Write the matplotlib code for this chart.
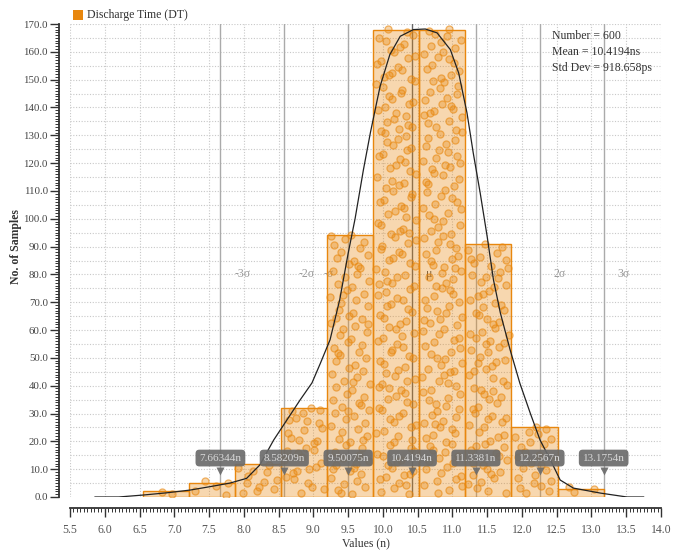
import numpy as np
import matplotlib.pyplot as plt
from matplotlib.patches import Rectangle
from matplotlib.ticker import MultipleLocator, FormatStrFormatter

# histogram of discharge time (ns)
bin_edges = [6.545, 7.208, 7.871, 8.534, 9.197, 9.860, 10.523, 11.186, 11.849, 12.512, 13.175]
bin_counts = [2, 5, 12, 32, 94, 168, 168, 91, 25, 3]

# density curve
curve_x = [5.86, 6.20, 6.55, 6.89, 7.23, 7.51, 7.80, 8.04, 8.23, 8.43, 8.62, 8.81,
           8.98, 9.10, 9.24, 9.38, 9.50, 9.60, 9.72, 9.82, 9.91, 9.96, 10.10, 10.25,
           10.44, 10.61, 10.78, 10.97, 11.09, 11.21, 11.30, 11.40, 11.50, 11.59,
           11.69, 11.83, 11.97, 12.12, 12.26, 12.41, 12.55, 12.74, 13.13, 13.51, 13.75]
curve_y = [0.0, 0.0, 0.7, 1.5, 2.5, 3.7, 5.0, 6.7, 11.5, 20.5, 27.7, 34.9,
           41.0, 48.0, 56.5, 71.0, 87.5, 100.0, 117.6, 130.9, 141.7, 147.6, 159.0, 165.6,
           168.0, 168.2, 166.8, 160.8, 152.4, 138.0, 123.6, 109.2, 93.6, 78.1,
           66.1, 52.9, 40.9, 30.1, 20.5, 13.3, 6.1, 3.2, 1.4, 0.0, 0.0]

n_samples = 600
mean_ns = 10.4194
std_ns = 0.918658
sigma_steps = [-3, -2, -1, 0, 1, 2, 3]
sigma_names = ["-3\u03c3", "-2\u03c3", "-\u03c3", "\u03bc", "\u03c3", "2\u03c3", "3\u03c3"]
sigma_values = ["7.66344n", "8.58209n", "9.50075n", "10.4194n", "11.3381n", "12.2567n", "13.1754n"]

orange = "#e8870e"
plt.rcParams["font.family"] = ["Liberation Serif", "DejaVu Serif"]


def halton(i, base):
    f, r = 1.0, 0.0
    while i > 0:
        f /= base
        r += f * (i % base)
        i //= base
    return r


fig = plt.figure(figsize=(6.78, 5.5), dpi=100)
ax = fig.add_axes([70 / 678, 53 / 550, 591 / 678, 473 / 550])
ax.set_xlim(5.5, 14.0)
ax.set_ylim(0, 170)

# grid
ax.xaxis.set_major_locator(MultipleLocator(0.5))
ax.xaxis.set_minor_locator(MultipleLocator(0.05))
ax.yaxis.set_major_locator(MultipleLocator(10))
ax.yaxis.set_minor_locator(MultipleLocator(1))
for yv in np.arange(5, 171, 5):
    ax.axhline(yv, color="#c8c8c8", lw=0.8, ls=(0, (1, 1.5)), zorder=0)
for xv in np.arange(5.5, 14.01, 0.5):
    ax.axvline(xv, color="#c8c8c8", lw=0.8, ls=(0, (1, 1.5)), zorder=0)

# sigma lines and labels
for k, name in zip(sigma_steps, sigma_names):
    xs = mean_ns + k * std_ns
    ax.axvline(xs, color="#666666" if k == 0 else "#aaaaaa", lw=1.0, zorder=1)
    off = -0.36 if k == -1 else 0.2
    ax.text(xs + off, 80, name, color="#555555" if k == 0 else "#999999", fontsize=8.5,
            ha="left", va="center", zorder=1)

# bars
for i, c in enumerate(bin_counts):
    x0, x1 = bin_edges[i], bin_edges[i + 1]
    ax.add_patch(Rectangle((x0, 0), x1 - x0, c, facecolor=(0.91, 0.53, 0.055, 0.33),
                           edgecolor=orange, lw=1.0, zorder=2))

# sample dots spread over each bar
dx, dy = [], []
k = 20
for i, c in enumerate(bin_counts):
    x0, x1 = bin_edges[i], bin_edges[i + 1]
    for j in range(c):
        k += 1
        dx.append(x0 + 0.04 + halton(k, 2) * (x1 - x0 - 0.08))
        dy.append(0.8 + halton(k, 3) * c)
ax.scatter(dx, dy, s=26, facecolor=(0.91, 0.53, 0.055, 0.35),
           edgecolor=(0.91, 0.53, 0.055, 0.6), lw=0.9, zorder=3)

# density curve
ax.plot(curve_x, curve_y, color="#222222", lw=0.9, zorder=4)

# value callouts
for k, lab in zip(sigma_steps, sigma_values):
    xs = mean_ns + k * std_ns
    ax.plot([xs], [9.3], marker="v", ms=6, color="#6b6b6b", mec="none", zorder=5, alpha=0.92)
    ax.text(xs, 14, lab, ha="center", va="center", fontsize=8, color="#d8d8d8", zorder=6,
            bbox=dict(boxstyle="round,pad=0.35,rounding_size=0.35", fc="#6b6b6b", ec="none", alpha=0.92))

# axes styling
for s in ["top", "right"]:
    ax.spines[s].set_visible(False)
ax.spines["left"].set_position(("outward", 8))
ax.spines["bottom"].set_position(("outward", 8))
for s in ["left", "bottom"]:
    ax.spines[s].set_color("#333333")
    ax.spines[s].set_linewidth(1.3)
ax.xaxis.set_major_formatter(FormatStrFormatter("%.1f"))
ax.yaxis.set_major_formatter(FormatStrFormatter("%.1f"))
ax.tick_params(which="major", length=6.5, width=1.0, color="#333333", labelsize=7.8,
               labelcolor="#444444", pad=1.5)
ax.tick_params(axis="x", which="major", labelsize=8.5, labelcolor="#555555", pad=5)
ax.tick_params(which="minor", length=3, width=0.7, color="#333333")

ax.set_xlabel("Values (n)", fontsize=8.5, color="#333333", va="center")
ax.xaxis.set_label_coords(0.5, -0.097)
ax.set_ylabel("No. of Samples", fontsize=8.5, fontweight="bold", color="#333333", va="center")
ax.yaxis.set_label_coords(-0.091, 0.53)

# legend and stats
fig.add_artist(Rectangle((73 / 678, 1 - 20 / 550), 10 / 678, 10 / 550,
                         transform=fig.transFigure, facecolor=orange, edgecolor="none"))
fig.text(87 / 678, 1 - 15 / 550, "Discharge Time (DT)", fontsize=8.5, color="#333333", va="center")
fig.text(552 / 678, 1 - 30 / 550,
         "Number = %d\nMean = %.4fns\nStd Dev = %.3fps" % (n_samples, mean_ns, std_ns * 1000),
         fontsize=8.5, color="#333333", va="top", linespacing=1.45)

fig.savefig("out.png", dpi=100)
